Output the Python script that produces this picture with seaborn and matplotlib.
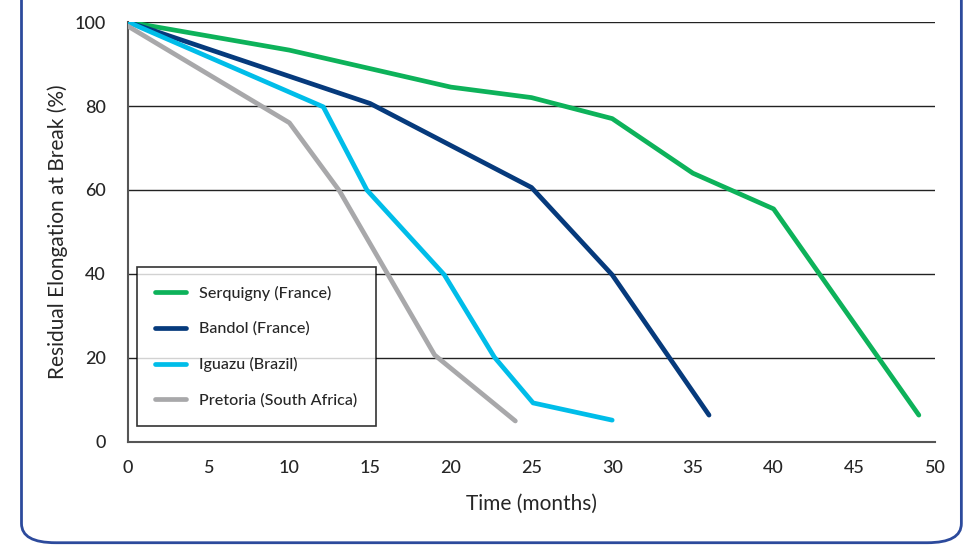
import pandas as pd
import matplotlib.pyplot as plt
import seaborn as sns
from matplotlib.patches import FancyBboxPatch

# Dados
sites = ["Serquigny (France)", "Bandol (France)", "Iguazu (Brazil)", "Pretoria (South Africa)"]

serquigny_t = [0, 10, 20, 25, 30, 35, 40, 49]
serquigny_v = [100, 93.3, 84.5, 82, 77, 64, 55.5, 6.4]

bandol_t = [0, 15, 25, 30, 36]
bandol_v = [100, 80.6, 60.6, 39.8, 6.4]

iguazu_t = [0, 12.1, 14.8, 19.6, 22.7, 25.1, 30]
iguazu_v = [100, 79.8, 60, 39.8, 20.2, 9.3, 5.2]

pretoria_t = [0, 10, 13.1, 19, 24]
pretoria_v = [99, 76, 59.8, 20.7, 5]

colors = ["#0db25a", "#063a7c", "#00bde9", "#a8a8aa"]

frames = []
for name, t, v in zip(sites,
                      [serquigny_t, bandol_t, iguazu_t, pretoria_t],
                      [serquigny_v, bandol_v, iguazu_v, pretoria_v]):
    frames.append(pd.DataFrame({"Time": t, "Value": v, "Site": name}))
df = pd.concat(frames, ignore_index=True)

sns.set_style("white")
plt.rcParams['font.family'] = ['Lato', 'DejaVu Sans']
plt.rcParams['font.weight'] = 'medium'

fig = plt.figure(figsize=(9.77, 5.46), dpi=100)
ax = fig.add_axes([0.131, 0.1905, 0.826, 0.7692])

sns.lineplot(data=df, x="Time", y="Value", hue="Site", hue_order=sites,
             palette=colors, sort=False, linewidth=3.4, ax=ax, zorder=3)

ax.set_xlim(0, 50)
ax.set_ylim(0, 100)
ax.set_xticks(range(0, 51, 5))
ax.set_yticks(range(0, 101, 20))
ax.grid(axis='y', color='#222222', linewidth=1.0)
ax.grid(axis='x', visible=False)
ax.tick_params(axis='x', direction='in', length=6, width=1, color='#333333',
               labelsize=13, pad=13)
ax.tick_params(axis='y', length=0, labelsize=13, pad=16)
for s in ['top', 'right']:
    ax.spines[s].set_visible(False)
for s in ['left', 'bottom']:
    ax.spines[s].set_color('#555555')
    ax.spines[s].set_linewidth(1.5)

ax.set_xlabel("Time (months)", fontsize=15, labelpad=13)
ax.set_ylabel("Residual Elongation at Break (%)", fontsize=15, labelpad=5)

leg = ax.legend(loc='lower left', bbox_to_anchor=(0.011, 0.038), borderaxespad=0,
                fontsize=11.6, frameon=True, fancybox=False, edgecolor='black',
                handlelength=1.9, labelspacing=1.3, borderpad=1.15,
                handletextpad=0.8)
leg.get_frame().set_linewidth(1.2)
leg.set_zorder(5)

# moldura arredondada
border = FancyBboxPatch((0.022, 0.006), 0.962, 1.2,
                        boxstyle="round,pad=0,rounding_size=0.035",
                        transform=fig.transFigure, fill=False,
                        edgecolor='#2c4a9c', linewidth=2, clip_on=False)
fig.patches.append(border)

fig.savefig("out.png", dpi=100)
